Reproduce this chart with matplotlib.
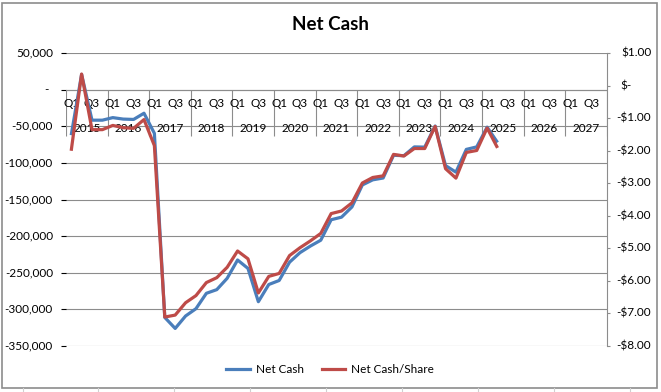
import matplotlib
matplotlib.use("Agg")
import matplotlib.pyplot as plt
from matplotlib.transforms import blended_transform_factory
from matplotlib.patches import Rectangle
from matplotlib.lines import Line2D
import numpy as np

plt.rcParams['font.family'] = ['Lato', 'DejaVu Sans']

# ---- data ----
years = list(range(2015, 2028))
quarters = ['Q1', 'Q2', 'Q3', 'Q4']
net_cash = [-62000, 21000, -41500, -41500, -38000, -40000, -40500, -32000,
            -59500, -311000, -326000, -309000, -299000, -278000, -273000, -257500,
            -232500, -244000, -289500, -266000, -260500, -235500, -222500, -213500,
            -205500, -177500, -174000, -160000, -130000, -123000, -120500, -89500,
            -90000, -78000, -78300, -49500, -103500, -112500, -81400, -78000,
            -51000, -72000]
net_cash_share = [-2.00, 0.36, -1.35, -1.35, -1.22, -1.29, -1.31, -1.04,
                  -1.84, -7.11, -7.05, -6.67, -6.45, -6.05, -5.90, -5.58,
                  -5.08, -5.32, -6.37, -5.86, -5.77, -5.22, -4.98, -4.77,
                  -4.54, -3.93, -3.85, -3.60, -2.99, -2.82, -2.77, -2.11,
                  -2.16, -1.93, -1.93, -1.25, -2.55, -2.84, -2.05, -1.99,
                  -1.30, -1.91]
left_ticks = list(range(-350000, 50001, 50000))
right_ticks = list(range(-8, 2))

W, H = 661, 392
blue = '#4A7EBB'
red = '#BE4B48'
gridc = '#8C8C8C'
fs = 8.5

fig = plt.figure(figsize=(W / 100, H / 100), dpi=100)
L, R, T, B = 66, 606.7, 53.2, 346
ax = fig.add_axes([L / W, 1 - B / H, (R - L) / W, (B - T) / H])
nq = len(years) * len(quarters)
ax.set_xlim(0, nq)
ax.set_ylim(left_ticks[0], left_ticks[-1])
ax.set_yticks(left_ticks)
ax.tick_params(left=False, labelleft=False, bottom=False, labelbottom=False)
ax.grid(axis='y', color=gridc, lw=0.8)
ax.set_axisbelow(True)
for s in ax.spines.values():
    s.set_visible(False)

x = np.arange(len(net_cash)) + 0.5
ax.plot(x, net_cash, color=blue, lw=2.3, solid_joinstyle='round', solid_capstyle='butt', zorder=3)

ax2 = ax.twinx()
ax2.set_ylim(right_ticks[0], right_ticks[-1])
ax2.set_yticks(right_ticks)
ax2.tick_params(right=True, length=2.5, width=0.8, color=gridc, labelright=False)
for k, s in ax2.spines.items():
    s.set_visible(k == 'right')
ax2.spines['right'].set_color(gridc)
ax2.spines['right'].set_linewidth(0.8)
ax2.plot(np.arange(len(net_cash_share)) + 0.5, net_cash_share, color=red, lw=2.3,
         solid_joinstyle='round', solid_capstyle='butt', zorder=3)

# left tick labels
tl = blended_transform_factory(fig.transFigure, ax.transData)
for v in left_ticks:
    if v == 0:
        fig.text(48.5 / W, v, '-', ha='right', va='center', fontsize=fs, transform=tl)
    else:
        fig.text(53 / W, v, f'{v:,}', ha='right', va='center', fontsize=fs, transform=tl)

# right tick labels
tr = blended_transform_factory(fig.transFigure, ax2.transData)
for v in right_ticks:
    if v == 0:
        fig.text(620 / W, v, '$-', ha='left', va='center', fontsize=fs, transform=tr)
    elif v > 0:
        fig.text(621 / W, v, f'${v:.2f}', ha='left', va='center', fontsize=fs, transform=tr)
    else:
        fig.text(616.5 / W, v, f'-${-v:.2f}', ha='left', va='center', fontsize=fs, transform=tr)

# category axis at zero
ax.axhline(0, color=gridc, lw=0.8, zorder=1)
sep_depth = -63000
ax.vlines(np.arange(0, nq + 1, 4), sep_depth, 0, color=gridc, lw=0.8, zorder=1)
tc = blended_transform_factory(ax.transData, fig.transFigure)
for yi, yr in enumerate(years):
    for qi, q in enumerate(quarters):
        if q in ('Q1', 'Q3'):
            ax.text(yi * 4 + qi + 0.5, 1 - 103.3 / H, q, ha='center', va='center',
                    fontsize=fs, transform=tc, zorder=2)
    ax.text(yi * 4 + 2, 1 - 128.3 / H, str(yr), ha='center', va='center',
            fontsize=fs, transform=tc, zorder=2)

# title
fig.text(0.5, 1 - 25 / H, 'Net Cash', ha='center', va='center', fontsize=13.5, fontweight='bold')

# legend
handles = [Line2D([], [], color=blue, lw=2.3), Line2D([], [], color=red, lw=2.3)]
fig.legend(handles, ['Net Cash', 'Net Cash/Share'], loc='center', ncol=2,
           bbox_to_anchor=(0.4997, 1 - 369.3 / H), frameon=False, fontsize=fs,
           handlelength=2.0, handletextpad=0.5, columnspacing=1.5)

# chart border
fig.add_artist(Rectangle((2 / W, 1 - 388 / H), 655 / W, 385 / H, transform=fig.transFigure,
                         fill=False, edgecolor='#8C8C8C', lw=1.2))
for bx in [23, 98, 174, 250, 326, 402, 478, 554, 630]:
    fig.add_artist(Line2D([bx / W, bx / W], [0, 1 - 388 / H], transform=fig.transFigure,
                          color='#D0D0D0', lw=0.8))

fig.savefig('out.png', dpi=100)
